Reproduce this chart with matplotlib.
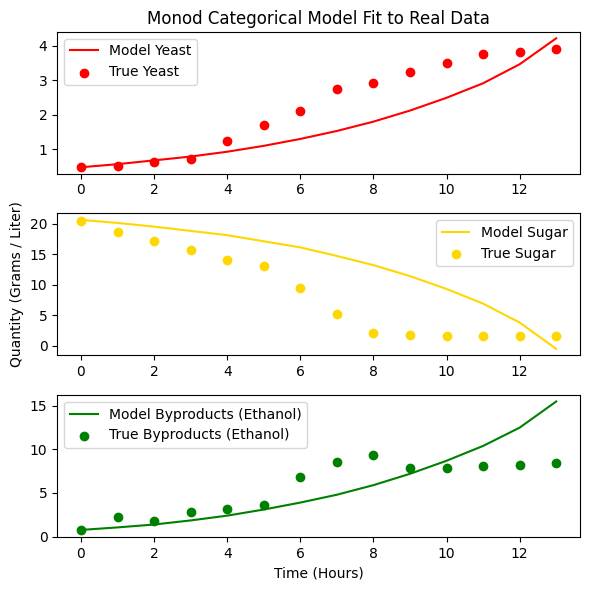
import matplotlib
matplotlib.use('Agg')
import matplotlib.pyplot as plt
import numpy as np

hours = np.arange(14)

# observed data
true_yeast = [0.50, 0.53, 0.63, 0.71, 1.23, 1.70, 2.11, 2.74, 2.91, 3.24, 3.51, 3.77, 3.80, 3.91]
true_sugar = [20.5, 18.7, 17.1, 15.6, 14.0, 13.0, 9.4, 5.2, 2.1, 1.8, 1.6, 1.6, 1.6, 1.6]
true_ethanol = [0.7, 2.2, 1.75, 2.85, 3.2, 3.6, 6.85, 8.5, 9.35, 7.9, 7.9, 8.1, 8.2, 8.45]

# model curves
model_yeast = [0.48, 0.57, 0.68, 0.79, 0.93, 1.10, 1.30, 1.53, 1.80, 2.12, 2.49, 2.91, 3.46, 4.21]
model_sugar = [20.6, 20.1, 19.5, 18.8, 18.1, 17.1, 16.1, 14.7, 13.2, 11.4, 9.3, 6.9, 3.8, -0.5]
model_ethanol = [0.76, 1.05, 1.38, 1.85, 2.4, 3.1, 3.9, 4.8, 5.9, 7.2, 8.7, 10.4, 12.5, 15.5]

fig, axes = plt.subplots(3, 1, figsize=(5.9, 5.9), dpi=100)

axes[0].plot(hours, model_yeast, color='red', label='Model Yeast')
axes[0].scatter(hours, true_yeast, color='red', label='True Yeast')
axes[0].set_title('Monod Categorical Model Fit to Real Data')
axes[0].legend(loc='upper left')

axes[1].plot(hours, model_sugar, color='gold', label='Model Sugar')
axes[1].scatter(hours, true_sugar, color='gold', label='True Sugar')
axes[1].set_ylabel('Quantity (Grams / Liter)')
axes[1].legend(loc='upper right')

axes[2].plot(hours, model_ethanol, color='green', label='Model Byproducts (Ethanol)')
axes[2].scatter(hours, true_ethanol, color='green', label='True Byproducts (Ethanol)')
axes[2].set_xlabel('Time (Hours)')
axes[2].legend(loc='upper left')

plt.subplots_adjust(left=0.097, right=0.983, top=0.946, bottom=0.09, hspace=0.28)
plt.savefig('out.png')
